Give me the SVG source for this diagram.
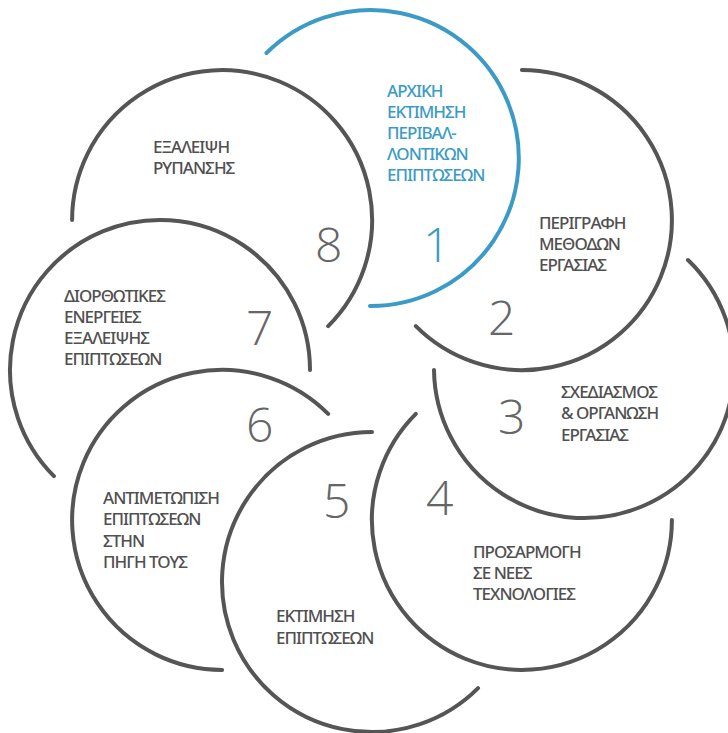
<svg xmlns="http://www.w3.org/2000/svg" width="728" height="733" viewBox="0 0 728 733">
<style>
.arc{fill:none;stroke:#555;stroke-width:4;stroke-linecap:round}
.blue{stroke:#3b9bc6}
.t{font-family:"Noto Sans","DejaVu Sans",sans-serif;font-size:17px;font-weight:500;letter-spacing:-1px;fill:#505050}
.tb{fill:#3b9bc6}
.n{font-family:"Open Sans","Noto Sans",sans-serif;font-size:48px;font-weight:300;fill:#666}
.nb{fill:#3b9bc6}
</style>
<rect width="728" height="733" fill="#fff"/>
<g id="connectors">
<path class="arc" d="M521.9 70.1 A150 150 0 1 1 415.83 326.17"/>
<path class="arc" d="M688 260 A150 150 0 1 1 434 370"/>
<path class="arc" d="M671.9 519.9 A150 150 0 1 1 415.83 413.83"/>
<path class="arc" d="M478.07 688.07 A150 150 0 1 1 372 432"/>
<path class="arc" d="M222.1 669.9 A150 150 0 1 1 328.17 413.83"/>
<path class="arc" d="M53.93 476.07 A150 150 0 1 1 310 370"/>
<path class="arc" d="M72.1 220.1 A150 150 0 1 1 328.17 326.17"/>
<path class="arc blue" d="M266.5 53 A148 148 0 1 1 370 306"/>
</g>
<g id="node1">
<text class="t tb"><tspan x="387" y="97">ΑΡΧΙΚΗ</tspan><tspan x="387" y="118">ΕΚΤΙΜΗΣΗ</tspan><tspan x="387" y="139">ΠΕΡΙΒΑΛ-</tspan><tspan x="387" y="160">ΛΟΝΤΙΚΩΝ</tspan><tspan x="387" y="181">ΕΠΙΠΤΩΣΕΩΝ</tspan></text>
<text class="n nb" x="423" y="262">1</text>
</g>
<g id="node2">
<text class="t"><tspan x="539" y="229">ΠΕΡΙΓΡΑΦΗ</tspan><tspan x="539" y="250">ΜΕΘΟΔΩΝ</tspan><tspan x="539" y="271">ΕΡΓΑΣΙΑΣ</tspan></text>
<text class="n" x="488" y="335">2</text>
</g>
<g id="node3">
<text class="t"><tspan x="561" y="398">ΣΧΕΔΙΑΣΜΟΣ</tspan><tspan x="561" y="419">&amp; ΟΡΓΑΝΩΣΗ</tspan><tspan x="561" y="441">ΕΡΓΑΣΙΑΣ</tspan></text>
<text class="n" x="498" y="434">3</text>
</g>
<g id="node4">
<text class="t"><tspan x="473" y="558">ΠΡΟΣΑΡΜΟΓΗ</tspan><tspan x="473" y="579">ΣΕ ΝΕΕΣ</tspan><tspan x="473" y="600">ΤΕΧΝΟΛΟΓΙΕΣ</tspan></text>
<text class="n" x="426" y="515">4</text>
</g>
<g id="node5">
<text class="t"><tspan x="276" y="622">ΕΚΤΙΜΗΣΗ</tspan><tspan x="276" y="644">ΕΠΙΠΤΩΣΕΩΝ</tspan></text>
<text class="n" x="323" y="518">5</text>
</g>
<g id="node6">
<text class="t"><tspan x="103" y="504">ΑΝΤΙΜΕΤΩΠΙΣΗ</tspan><tspan x="103" y="525">ΕΠΙΠΤΩΣΕΩΝ</tspan><tspan x="103" y="547">ΣΤΗΝ</tspan><tspan x="103" y="568">ΠΗΓΗ ΤΟΥΣ</tspan></text>
<text class="n" x="246" y="442">6</text>
</g>
<g id="node7">
<text class="t"><tspan x="64" y="302">ΔΙΟΡΘΩΤΙΚΕΣ</tspan><tspan x="64" y="323">ΕΝΕΡΓΕΙΕΣ</tspan><tspan x="64" y="344">ΕΞΑΛΕΙΨΗΣ</tspan><tspan x="64" y="365">ΕΠΙΠΤΩΣΕΩΝ</tspan></text>
<text class="n" x="246" y="345">7</text>
</g>
<g id="node8">
<text class="t"><tspan x="153" y="153">ΕΞΑΛΕΙΨΗ</tspan><tspan x="153" y="174">ΡΥΠΑΝΣΗΣ</tspan></text>
<text class="n" x="315" y="262">8</text>
</g>
</svg>
